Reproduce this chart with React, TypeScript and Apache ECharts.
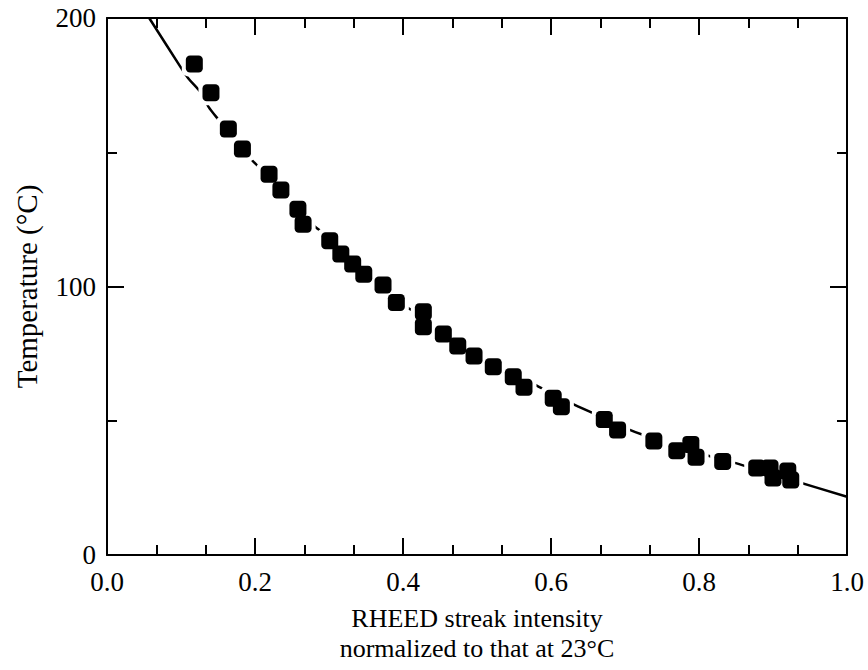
import React, { useEffect, useRef } from "react";
import * as echarts from "echarts";

// Measured points: RHEED intensity (normalized) vs temperature (°C)
const intensity = [
  0.118, 0.1405, 0.164, 0.183, 0.219, 0.235, 0.258, 0.265, 0.301, 0.316,
  0.332, 0.347, 0.373, 0.391, 0.4275, 0.4275, 0.4545, 0.474, 0.496, 0.522,
  0.549, 0.5635, 0.603, 0.614, 0.672, 0.69, 0.739, 0.77, 0.789, 0.796,
  0.832, 0.878, 0.896, 0.9, 0.92, 0.924,
];
const temperature = [
  182.9, 172.2, 158.7, 151.2, 141.8, 135.9, 128.8, 123.2, 117.0, 112.1,
  108.4, 104.6, 100.6, 94.0, 90.6, 85.0, 82.3, 77.8, 74.1, 70.1,
  66.4, 62.5, 58.4, 55.2, 50.5, 46.6, 42.5, 38.8, 41.2, 36.4,
  34.8, 32.4, 32.4, 28.7, 31.3, 27.9,
];

// Fitted curve
const curveX = [
  0.057, 0.0986, 0.11, 0.126, 0.137, 0.149, 0.196, 0.206, 0.25, 0.281,
  0.29, 0.35, 0.405, 0.416, 0.5, 0.576, 0.592, 0.628, 0.657, 0.704,
  0.725, 0.8, 0.846, 0.864, 0.924, 1.0,
];
const curveY = [
  200, 182.1, 177.5, 172.5, 167, 162.7, 147, 144.3, 131, 122.3,
  120.4, 104.5, 92.3, 90.7, 75.2, 63.7, 61.5, 56.5, 52.8, 46.9,
  44.7, 38.0, 34.5, 33.0, 28.0, 21.7,
];

const xTicks = ["0.0", "0.2", "0.4", "0.6", "0.8", "1.0"];
const yTicks = ["0", "100", "200"];

const FONT = "'Liberation Serif', 'Times New Roman', serif";

export default function App() {
  const ref = useRef<HTMLDivElement>(null);
  useEffect(() => {
    if (!ref.current) return;
    const chart = echarts.init(ref.current, null, { renderer: "svg" });
    const points = intensity.map((x, i) => [x, temperature[i]]);
    const curve = curveX.map((x, i) => [x, curveY[i]]);
    const axisLine = { show: true, onZero: false, lineStyle: { color: "#000", width: 2 } };
    const tick = { show: true, inside: true, length: 17, lineStyle: { color: "#000", width: 2 } };
    const baseX = {
      type: "value" as const,
      min: 0,
      max: 1,
      interval: 0.2,
      axisLine,
      axisTick: tick,
      minorTick: { show: true, splitNumber: 3, length: 10, lineStyle: { color: "#000", width: 2 } },
      splitLine: { show: false },
      minorSplitLine: { show: false },
    };
    const baseY = {
      type: "value" as const,
      min: 0,
      max: 200,
      interval: 100,
      axisLine,
      axisTick: tick,
      minorTick: { show: true, splitNumber: 2, length: 10, lineStyle: { color: "#000", width: 2 } },
      splitLine: { show: false },
      minorSplitLine: { show: false },
    };
    chart.setOption({
      animation: false,
      backgroundColor: "#fff",
      grid: { left: 107, right: 21, top: 18, bottom: 115 },
      xAxis: [
        {
          ...baseX,
          position: "bottom",
          axisLabel: {
            show: true,
            margin: 13,
            color: "#000",
            fontFamily: FONT,
            fontSize: 27,
            formatter: (v: number) => xTicks[Math.round(v / 0.2)] ?? "",
          },
          name: "RHEED streak intensity\nnormalized to that at 23°C",
          nameLocation: "middle",
          nameGap: 48,
          nameTextStyle: { color: "#000", fontFamily: FONT, fontSize: 26, lineHeight: 30, verticalAlign: "top" },
        },
        { ...baseX, position: "top", axisLabel: { show: false } },
      ],
      yAxis: [
        {
          ...baseY,
          position: "left",
          axisLabel: {
            show: true,
            margin: 11,
            color: "#000",
            fontFamily: FONT,
            fontSize: 27,
            formatter: (v: number) => yTicks[Math.round(v / 100)] ?? "",
          },
          name: "Temperature (°C)",
          nameLocation: "middle",
          nameGap: 66,
          nameRotate: 90,
          nameTextStyle: { color: "#000", fontFamily: FONT, fontSize: 29 },
        },
        { ...baseY, position: "right", axisLabel: { show: false } },
      ],
      series: [
        {
          type: "line",
          data: curve,
          showSymbol: false,
          symbol: "none",
          smooth: 0.3,
          lineStyle: { color: "#000", width: 2.5 },
          z: 1,
        },
        {
          type: "scatter",
          data: points,
          symbol: "roundRect",
          symbolSize: 25,
          itemStyle: { color: "#fff", opacity: 1 },
          z: 2,
        },
        {
          type: "scatter",
          data: points,
          symbol: "roundRect",
          symbolSize: 17,
          itemStyle: { color: "#000", opacity: 1 },
          z: 3,
        },
      ],
    });
    return () => chart.dispose();
  }, []);
  return (
    <div
      ref={ref}
      style={{ position: "absolute", left: 0, top: 0, width: 868, height: 670 }}
    />
  );
}
